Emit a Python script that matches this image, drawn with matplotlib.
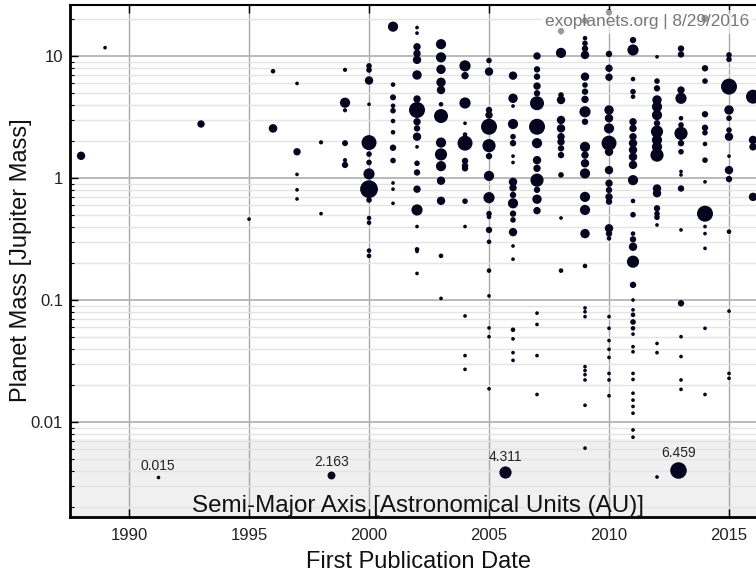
import numpy as np
import matplotlib.pyplot as plt
from matplotlib.ticker import FixedLocator, NullFormatter

plt.rcParams['font.family'] = ['Liberation Sans', 'DejaVu Sans']

# publication year of each group of planets
years = [1988, 1989, 1993, 1995, 1996, 1997, 1998, 1999, 2000, 2001, 2002,
         2003, 2004, 2005, 2006, 2007, 2008, 2009, 2010, 2011, 2012, 2013,
         2014, 2015, 2016]

# planet mass [Jupiter masses], one list per year
masses = [
    [1.52],
    [11.7],
    [2.77],
    [0.46],
    [7.5, 2.55],
    [5.96, 1.64, 1.07, 0.80, 0.673],
    [1.96, 0.51],
    [7.7, 4.14, 3.59, 1.93, 1.40, 1.28],
    [8.3, 7.68, 6.3, 4.02, 1.95, 1.57, 1.34, 1.08, 0.81, 0.66, 0.47, 0.43,
     0.254, 0.23],
    [17.4, 5.83, 4.58, 3.91, 3.56, 2.93, 2.37, 1.77, 1.39, 0.91, 0.81, 0.62],
    [17.1, 15.4, 11.9, 10.5, 9.3, 6.99, 4.44, 3.61, 2.89, 2.55, 2.18, 1.80,
     1.32, 1.11, 0.81, 0.547, 0.40, 0.26, 0.25, 0.165],
    [12.5, 9.75, 7.77, 6.09, 5.26, 4.02, 3.22, 1.95, 1.56, 1.25, 0.95, 0.65,
     0.23, 0.103],
    [8.3, 6.9, 4.12, 2.81, 2.27, 1.93, 1.38, 1.26, 1.20, 0.645, 0.40, 0.074,
     0.035, 0.027],
    [9.18, 7.45, 3.61, 3.28, 2.63, 1.84, 1.51, 1.04, 0.69, 0.51, 0.48, 0.375,
     0.30, 0.174, 0.108, 0.059, 0.050, 0.0187],
    [6.9, 4.5, 3.89, 2.77, 2.18, 1.93, 1.51, 1.34, 0.93, 0.83, 0.726, 0.62,
     0.51, 0.453, 0.36, 0.277, 0.216, 0.057, 0.048, 0.037, 0.032],
    [10.0, 7.77, 6.77, 5.67, 4.95, 4.10, 2.63, 1.93, 1.40, 1.20, 0.96, 0.80,
     0.67, 0.54, 0.078, 0.063, 0.035, 0.0168],
    [16.0, 10.6, 4.79, 4.36, 2.99, 2.55, 2.18, 1.98, 1.75, 1.54, 1.06, 0.47,
     0.174],
    [19.5, 14.0, 12.7, 11.5, 10.2, 6.77, 5.78, 5.10, 4.41, 3.49, 2.89, 1.80,
     1.54, 1.32, 1.09, 0.70, 0.547, 0.35, 0.19, 0.086, 0.080, 0.073, 0.0284,
     0.0264, 0.0244, 0.0221, 0.0137, 0.0061],
    [22.8, 10.4, 7.93, 6.7, 3.61, 3.09, 2.55, 1.93, 1.64, 1.16, 0.905, 0.797,
     0.70, 0.64, 0.387, 0.35, 0.32, 0.073, 0.0586, 0.0465, 0.0394, 0.0338,
     0.0250, 0.0221, 0.0164],
    [13.5, 11.2, 6.47, 5.1, 4.64, 2.89, 2.55, 2.18, 1.93, 1.70, 1.49, 1.28,
     0.96, 0.648, 0.50, 0.35, 0.314, 0.273, 0.206, 0.133, 0.1, 0.083, 0.0756,
     0.066, 0.0586, 0.0525, 0.0414, 0.0376, 0.0250, 0.0223, 0.0172, 0.0151,
     0.0134, 0.0118, 0.0086, 0.0075],
    [9.85, 6.23, 5.43, 4.36, 3.84, 3.28, 2.81, 2.40, 2.05, 1.80, 1.54, 0.82,
     0.75, 0.564, 0.51, 0.476, 0.412, 0.044, 0.037, 0.00354],
    [11.5, 10.3, 5.26, 4.5, 3.09, 2.72, 2.32, 1.93, 1.64, 1.13, 1.06, 0.82,
     0.375, 0.094, 0.05, 0.0344, 0.0221, 0.0185],
    [20.3, 7.93, 6.23, 3.33, 2.58, 2.35, 1.90, 1.40, 0.93, 0.51, 0.40, 0.35,
     0.265, 0.0586, 0.0168],
    [10.2, 9.38, 5.61, 3.61, 3.09, 2.47, 2.18, 1.51, 1.16, 0.98, 0.363, 0.081,
     0.025, 0.0228],
    [4.64, 2.05, 1.80, 0.70],
]

# semi-major axis [AU], same layout as masses
semi_major = [
    [2.4],
    [0.05],
    [1.9],
    [0.05],
    [0.5, 2.5],
    [0.05, 1.9, 0.05, 0.05, 0.05],
    [0.3, 0.05],
    [0.3, 3.3, 0.3, 1.2, 0.3, 1.4],
    [1.0, 1.0, 2.4, 0.05, 5.7, 1.0, 1.0, 3.8, 7.1, 1.0, 0.5, 0.5, 0.5, 0.5],
    [3.3, 0.5, 1.2, 0.5, 1.0, 0.5, 0.5, 1.4, 1.0, 0.05, 0.05, 0.05],
    [0.05, 0.05, 1.9, 1.9, 2.4, 2.9, 1.9, 6.2, 1.9, 1.4, 2.4, 0.05, 1.0, 1.4,
     1.9, 3.8, 0.05, 0.5, 0.05, 0.05],
    [3.3, 3.3, 2.9, 2.9, 2.4, 0.5, 5.2, 3.3, 4.3, 3.3, 2.4, 2.4, 0.5, 0.05],
    [3.8, 1.9, 3.8, 0.05, 0.5, 5.7, 1.4, 1.4, 1.4, 1.0, 0.05, 0.05, 0.05,
     0.05],
    [1.0, 2.4, 1.4, 1.9, 6.2, 4.8, 1.4, 3.3, 3.8, 1.0, 0.5, 1.4, 0.5, 0.5,
     0.05, 0.05, 0.05, 0.05],
    [2.4, 2.9, 0.05, 3.3, 1.0, 1.4, 0.05, 0.05, 2.4, 1.9, 1.4, 3.3, 1.4, 1.0,
     2.4, 0.05, 0.05, 0.5, 0.05, 0.05, 0.05],
    [1.9, 1.4, 1.4, 1.9, 1.4, 5.2, 6.2, 3.3, 2.4, 1.9, 4.8, 1.4, 2.9, 1.9,
     0.05, 0.05, 0.05, 0.05],
    [1.4, 3.3, 1.0, 2.4, 2.4, 2.4, 1.9, 1.9, 1.4, 1.4, 1.0, 0.05, 0.5],
    [1.4, 0.5, 1.0, 1.4, 2.4, 2.4, 1.0, 1.4, 1.9, 3.8, 1.4, 3.3, 1.9, 2.4,
     3.3, 3.3, 3.3, 2.9, 0.5, 0.05, 0.05, 0.05, 0.05, 0.05, 0.05, 0.05, 0.05,
     0.05],
    [1.4, 1.4, 1.9, 1.9, 2.9, 2.4, 3.3, 5.7, 2.4, 2.4, 1.9, 1.4, 1.9, 1.4,
     2.4, 1.4, 0.5, 0.05, 0.05, 0.05, 0.05, 0.05, 0.05, 0.05, 0.05],
    [1.4, 3.8, 0.5, 1.0, 0.5, 1.9, 1.9, 1.9, 2.4, 2.4, 2.4, 2.4, 3.3, 0.5,
     1.0, 0.5, 1.4, 2.4, 4.3, 1.4, 0.05, 0.05, 0.5, 1.0, 0.5, 0.05, 0.05,
     0.05, 0.05, 0.05, 0.05, 0.05, 0.05, 0.05, 0.05, 0.05],
    [0.05, 1.0, 1.4, 2.9, 3.3, 3.3, 1.4, 4.3, 3.3, 3.3, 4.8, 2.4, 2.4, 1.4,
     1.0, 1.0, 0.05, 0.05, 0.05, 0.05],
    [1.4, 1.4, 1.9, 3.8, 0.5, 1.0, 4.8, 1.4, 1.0, 0.05, 0.05, 1.4, 0.05, 1.4,
     0.05, 0.05, 0.05, 0.05],
    [1.9, 1.4, 1.0, 1.4, 1.4, 1.0, 0.5, 1.0, 0.05, 6.2, 0.05, 0.05, 0.05,
     0.05, 0.05],
    [1.0, 1.0, 6.2, 2.9, 1.0, 1.0, 2.4, 0.05, 2.4, 1.4, 0.5, 0.05, 0.05,
     0.05],
    [5.2, 2.4, 1.9, 2.4],
]

legend_au = [0.015, 2.163, 4.311, 6.459]

DOT = '#05051f'
AX_H_PX = 512.0


def dot_diam(a):
    # marker diameter in pixels grows linearly with the orbit size
    return 3.6 + 2.0 * np.asarray(a, dtype=float)


def dot_area(a):
    return (dot_diam(a) * 0.72) ** 2


x = np.concatenate([[yr] * len(m) for yr, m in zip(years, masses)])
m = np.concatenate(masses)
a = np.concatenate(semi_major)

fig = plt.figure(figsize=(7.56, 5.74), dpi=100)
ax = fig.add_axes([70 / 756, 57 / 574, 686 / 756, 512 / 574])

ax.set_yscale('log')
ax.set_xlim(1987.54, 2016.125)
ax.set_ylim(10 ** -2.779, 10 ** 1.418)
ax.set_axisbelow(True)

# grey band holding the size key
ax.axhspan(1e-3, 7.26e-3, color='#f0f0f0', lw=0, zorder=0.2)

ax.scatter(x, m, s=dot_area(a), c=DOT, linewidths=0, zorder=3)

ax.xaxis.set_major_locator(FixedLocator([1990, 1995, 2000, 2005, 2010, 2015]))
ax.yaxis.set_major_locator(FixedLocator([0.01, 0.1, 1, 10]))
ax.set_yticklabels(['0.01', '0.1', '1', '10'])
minor = [k * 10.0 ** e for e in range(-3, 2) for k in range(2, 10)]
ax.yaxis.set_minor_locator(FixedLocator(minor))
ax.yaxis.set_minor_formatter(NullFormatter())

ax.grid(True, axis='x', which='major', color='#a8a8a8', lw=1.0)
ax.grid(True, axis='y', which='major', color='#b4b4b4', lw=1.3)
ax.grid(True, axis='y', which='minor', color='#e4e4e4', lw=1.0)

ax.tick_params(axis='both', which='major', direction='in', length=6,
               width=1, labelsize=12, labelcolor='#222222', top=True)
ax.tick_params(axis='x', which='major', pad=8)
ax.tick_params(axis='y', which='major', pad=5)
ax.tick_params(axis='y', which='minor', direction='in', length=3, width=0.8)

for side in ('left', 'bottom'):
    ax.spines[side].set_linewidth(2)
    ax.spines[side].set_color('black')
ax.spines['top'].set_linewidth(1.5)
ax.spines['right'].set_visible(False)

# size key
for i, au in enumerate(legend_au):
    xf = 0.128 + 0.253 * i
    d = float(dot_diam(au))
    yf = (38.5 + d / 2) / AX_H_PX
    ax.scatter([xf], [yf], s=float(dot_area(au)), c=DOT, linewidths=0,
               transform=ax.transAxes, zorder=4, clip_on=False)
    ax.text(xf, (38.5 + d + 5) / AX_H_PX, f'{au}', transform=ax.transAxes,
            ha='center', va='baseline', fontsize=10, color='#222222')

ax.text(0.507, 0.0104, 'Semi-Major Axis [Astronomical Units (AU)]',
        transform=ax.transAxes, ha='center', va='baseline', fontsize=17.4,
        color='#111111', zorder=5)

ax.text(0.99, 0.967, 'exoplanets.org | 8/29/2016', transform=ax.transAxes,
        ha='right', va='center', fontsize=12.4, color='#777777', zorder=6,
        bbox=dict(facecolor='white', edgecolor='none', alpha=0.6, pad=3))

fig.text(418 / 756, 1 - 568 / 574, 'First Publication Date', ha='center',
         va='baseline', fontsize=17, color='#111111')
fig.text(21 / 756, 1 - 260 / 574, 'Planet Mass [Jupiter Mass]', rotation=90,
         ha='center', va='center', fontsize=17, color='#111111')

fig.savefig('out.png', dpi=100)
